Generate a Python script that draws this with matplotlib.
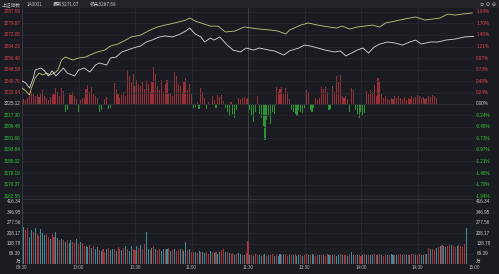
import matplotlib.pyplot as plt
from matplotlib.patches import Rectangle

# ---- data ----
base = 3225.12
price_ticks = [3287.69, 3279.87, 3272.05, 3264.22, 3256.40, 3248.58, 3240.76, 3232.94, 3225.12,
               3217.30, 3209.48, 3201.66, 3193.84, 3186.02, 3178.19, 3170.37, 3162.55]
pct_labels = ['1.94%', '1.70%', '1.46%', '1.21%', '0.97%', '0.73%', '0.48%', '0.24%', '0.00%',
              '-0.24%', '-0.48%', '-0.73%', '-0.97%', '-1.21%', '-1.46%', '-1.70%', '-1.94%']
vol_ticks = [416.34, 346.95, 277.56, 208.17, 138.78, 69.39]
time_pos = [0, 30, 60, 90, 120, 150, 180, 210, 240]
time_labels = ['09:30', '10:00', '10:30', '11:00', '11:30', '13:30', '14:00', '14:30', '15:00']

# leading index (yellow)
lead_min = [0, 2, 4, 5, 7, 9, 11, 13, 15, 18, 19, 21, 23, 27, 30, 34, 36, 40, 44, 47, 51, 55, 58, 63,
            68, 72, 76, 81, 87, 89, 92, 95, 100, 104, 108, 113, 118, 122, 126, 132, 136, 140, 142,
            148, 152, 157, 163, 167, 170, 174, 178, 182, 186, 190, 193, 198, 203, 209, 214, 218,
            222, 226, 230, 234, 239]
lead_px = [3236.0, 3234.0, 3231.2, 3236.0, 3242.8, 3246.2, 3244.8, 3246.2, 3244.8, 3246.9, 3248.2,
           3255.0, 3257.1, 3255.0, 3256.4, 3257.1, 3258.4, 3260.5, 3261.8, 3264.6, 3265.9, 3268.6,
           3270.7, 3272.0, 3275.4, 3277.5, 3278.8, 3280.2, 3282.2, 3283.6, 3281.5, 3280.2, 3278.1,
           3278.1, 3274.1, 3274.7, 3277.5, 3276.8, 3276.1, 3275.4, 3274.7, 3272.7, 3275.4, 3278.8,
           3280.2, 3278.8, 3277.5, 3276.8, 3278.1, 3276.1, 3277.5, 3278.1, 3278.8, 3277.5, 3280.2,
           3281.5, 3282.9, 3284.3, 3282.2, 3282.9, 3283.6, 3286.3, 3285.6, 3286.3, 3287.0]

# index (white)
idx_min = [0, 2, 4, 6, 7, 10, 12, 14, 16, 18, 20, 22, 24, 28, 30, 33, 36, 39, 41, 45, 47, 50, 53,
           56, 59, 63, 66, 69, 73, 76, 80, 84, 87, 89, 92, 95, 97, 100, 102, 105, 109, 112, 116,
           119, 123, 126, 131, 134, 139, 142, 147, 150, 153, 157, 161, 166, 169, 172, 175, 178,
           181, 184, 187, 190, 194, 198, 202, 206, 209, 212, 217, 221, 225, 230, 235, 240]
idx_px = [3240.8, 3239.4, 3236.0, 3242.8, 3248.2, 3249.6, 3247.6, 3244.2, 3247.6, 3244.2, 3246.9,
          3249.6, 3246.2, 3244.2, 3248.2, 3249.6, 3246.9, 3251.6, 3253.0, 3251.6, 3256.4, 3257.1,
          3260.5, 3261.8, 3263.2, 3264.6, 3267.3, 3268.6, 3270.7, 3271.4, 3270.7, 3272.7, 3274.8,
          3276.8, 3272.7, 3270.7, 3267.3, 3270.0, 3268.6, 3270.7, 3265.2, 3261.8, 3260.5, 3263.2,
          3261.8, 3263.2, 3261.8, 3261.2, 3258.4, 3261.2, 3263.2, 3265.2, 3264.6, 3263.2, 3261.8,
          3260.5, 3261.2, 3257.8, 3259.8, 3261.8, 3263.2, 3259.8, 3263.9, 3265.9, 3267.3, 3266.6,
          3265.2, 3267.3, 3268.6, 3265.9, 3267.3, 3267.3, 3268.6, 3269.3, 3270.7, 3271.07]

# buy/sell strength bars, one per minute (positive red, negative green)
strength = [
    3, 5, 4, 6, 8, 12, 10, 8, 9, 7, 10, 14, 8, 6, 4, 7, 9, 10, 16, 12,
    8, 16, 13, -8, -6, 11, 9, 12, 8, 5, -8, 4, 6, 6, 15, 19, 12, 17, 10, 8,
    6, -8, -6, 0, 5, 7, -5, -4, 0, 21, 15, 10, 6, 9, 12, 8, 34, 28, 22, 30,
    18, 24, 20, 18, 22, 15, 24, 20, 12, 22, 37, 30, 18, 14, 24, 12, 20, 24, 10, 11,
    8, 32, 28, 20, 18, 12, 22, 26, 14, 20, 10, -4, -3, 2, -5, 16, 12, 6, -5, 2,
    0, 8, 4, -4, 9, 7, 9, 3, -4, -8, -12, 2, -10, -14, -6, 6, 5, 6, 7, 5,
    6, -6, -12, -18, -8, 8, -10, -14, -22, -36, -16, -12, -20, -8, -10, 17, 12, 15, 17, 10,
    16, 12, 5, -6, -8, -10, -12, -6, -8, -9, -4, 14, 12, -6, -8, -4, 6, 4, 6, 17,
    15, 17, 12, -6, -5, 18, 12, 28, 22, 29, 8, 6, 8, 5, -8, 16, 14, -6, -10, -14,
    -8, -12, -9, 13, 10, 14, 12, 19, 8, 26, 22, 10, 6, 8, 5, 4, 6, 5, 8, 6,
    8, 6, 5, 7, 4, 6, 5, 8, 6, 7, 9, 8, 6, 7, 5, 6, 8, 7, 9, 8, 6]

# volume per minute and whether the minute closed up (r) or down (t)
volume = [
    416, 250, 230, 245, 180, 230, 215, 240, 200, 190, 235, 210, 195, 200, 180, 170, 205, 185, 215, 175,
    165, 170, 160, 150, 165, 140, 160, 150, 145, 170, 135, 150, 140, 125, 120, 115, 130, 110, 125, 100,
    115, 95, 90, 105, 85, 100, 110, 95, 100, 105, 90, 115, 100, 95, 110, 120, 105, 90, 125, 100,
    95, 120, 110, 130, 100, 135, 215, 100, 95, 110, 120, 105, 95, 100, 90, 105, 95, 100, 110, 90,
    95, 100, 90, 95, 105, 100, 90, 147, 95, 100, 85, 80, 85, 75, 90, 80, 85, 75, 80, 70,
    90, 80, 75, 85, 70, 80, 95, 100, 85, 80, 75, 70, 75, 65, 70, 75, 70, 65, 60, 75,
    153, 60, 65, 55, 70, 60, 65, 58, 62, 70, 55, 60, 66, 72, 58, 62, 55, 68, 60, 64,
    70, 58, 62, 66, 60, 72, 58, 64, 60, 55, 62, 68, 60, 66, 70, 62, 58, 64, 60, 66,
    62, 58, 70, 64, 60, 66, 62, 58, 64, 70, 60, 62, 66, 58, 64, 80, 62, 60, 66, 64,
    58, 62, 70, 64, 60, 66, 62, 68, 60, 64, 70, 62, 58, 66, 60, 64, 70, 62, 66, 60,
    64, 68, 62, 70, 66, 60, 64, 72, 68, 62, 66, 70, 64, 60, 68, 72, 110, 105, 100, 95,
    110, 115, 120, 130, 125, 118, 120, 130, 128, 120, 115, 125, 130, 120, 118, 135, 240]
vol_dir = ('ttrrttrtrrtttrrtrrttrtrtrttrrtrtrrttrtrttrtrrtrttrtrrtrtrttrrt'
           'rtrrttrtrtrrttrtrtrtrrtrttrtrrtrtrttrrtrtrttrrtrtrrtrttrtrrtr'
           'trrttrtrtrrtrttrtrrtrtrttrtrrtrttrrtrtrrtrtrttrtrrtrttrtrrtrtr'
           'ttrrtrtrrtrttrtrrtrtrtrrtrrttrtrtrrtrtrttrrtrrtrrrr')

# ---- figure ----
W, H = 499, 274
bg = '#1b1c21'
fig = plt.figure(figsize=(W / 100, H / 100), dpi=100, facecolor=bg)
num_font = ['Liberation Sans', 'DejaVu Sans']
cjk_font = ['Noto Sans CJK SC', 'DejaVu Sans']
fs = 3.3

def box(x0, y0, x1, y1):
    return [x0 / W, 1 - y1 / H, (x1 - x0) / W, (y1 - y0) / H]

# header band
fig.patches.append(Rectangle((0, 1 - 8 / H), 1, 8 / H, transform=fig.transFigure,
                             facecolor='#232429', edgecolor='none'))
hy = 1 - 4.2 / H
fig.text(2 / W, hy, '上证指数', family=cjk_font, fontsize=3.4, color='#b8b8b8', va='center')
fig.text(27 / W, hy, '1A0001', family=num_font, fontsize=fs, color='#b8b8b8', va='center')
fig.text(53 / W, hy, '最新3271.07', family=cjk_font, fontsize=3.4, color='#d0d0d0', va='center')
fig.text(90 / W, hy, '领先3287.69', family=cjk_font, fontsize=3.4, color='#d0d0d0', va='center')
fig.text(488 / W, hy, '⊃ ⊙ ⊖', family=['DejaVu Sans'], fontsize=3.6, color='#d0d0d0',
         va='center', ha='center')

# main price panel
ax = fig.add_axes(box(22, 8, 474, 199), facecolor=bg)
ylo = 3162.55 - 3 / 1.4704
yhi = 3287.69 + 4 / 1.4704
ax.set_xlim(0, 240)
ax.set_ylim(ylo, yhi)
for p in price_ticks:
    ax.axhline(p, color='#2a2b31', lw=0.5, zorder=0)
for t in time_pos[1:-1]:
    ax.axvline(t, color='#45464c' if t == 120 else '#2a2b31', lw=0.6, zorder=0)

axs = ax.twinx()
axs.set_ylim(-(199 - 104), 104 - 8)
mins = list(range(len(strength)))
axs.bar(mins, [max(v, 0) for v in strength], width=0.6, color='#a3343c', alpha=0.9)
axs.bar(mins, [min(v, 0) for v in strength], width=0.6, color='#2fa23a', alpha=0.9)
axs.set_yticks([])
axs.axhline(0, color='#3a3b41', lw=0.5)

ax.plot(lead_min, lead_px, color='#c8c67a', lw=0.6, zorder=5)
ax.plot(idx_min, idx_px, color='#dcdcdc', lw=0.6, zorder=5)
ax.set_zorder(axs.get_zorder() + 1)
ax.patch.set_visible(False)
axs.patch.set_visible(True)
axs.patch.set_facecolor(bg)

ax.set_xticks([])
ax.set_yticks([])
for p, lab in zip(price_ticks, pct_labels):
    if p > base + 1:
        c = '#e0434c'
    elif p < base - 1:
        c = '#33cc3a'
    else:
        c = '#d0d0d0'
    ax.text(-0.6, p, f'{p:.2f}', transform=ax.transData, ha='right', va='center',
            fontsize=fs, family=num_font, color=c, clip_on=False)
    ax.text(241.2, p, lab, ha='left', va='center', fontsize=fs, family=num_font,
            color=c, clip_on=False)
for a in (ax, axs):
    for s in a.spines.values():
        s.set_visible(False)
ax.axvline(0, color='#3a3b41', lw=0.6)
ax.axvline(240, color='#3a3b41', lw=0.6)

# volume panel
av = fig.add_axes(box(22, 199, 474, 264.4), facecolor=bg)
av.set_xlim(0, 240)
av.set_ylim(0, 416.34 + 3 / 0.1499)
for v in vol_ticks:
    av.axhline(v, color='#2a2b31', lw=0.5, zorder=0)
for t in time_pos[1:-1]:
    av.axvline(t, color='#45464c' if t == 120 else '#2a2b31', lw=0.6, zorder=0)
vm = list(range(len(volume)))
vc = ['#a5363d' if d == 'r' else '#3f8c96' for d in vol_dir[:len(volume)]]
av.bar(vm, volume, width=0.55, color=vc)
av.set_xticks([])
av.set_yticks([])
for s in av.spines.values():
    s.set_visible(False)
av.axhline(av.get_ylim()[1], color='#3a3b41', lw=0.6)
av.axvline(0, color='#3a3b41', lw=0.6)
av.axvline(240, color='#3a3b41', lw=0.6)
for v in vol_ticks:
    av.text(-0.6, v, f'{v:.2f}', ha='right', va='center', fontsize=fs, family=num_font,
            color='#c8c8c8', clip_on=False)
    av.text(241.2, v, f'{v:.2f}', ha='left', va='center', fontsize=fs, family=num_font,
            color='#c8c8c8', clip_on=False)
av.text(-0.6, 0, '万', ha='right', va='bottom', fontsize=3.4, family=cjk_font, color='#c8c8c8',
        clip_on=False)
av.text(241.2, 0, '万', ha='left', va='bottom', fontsize=3.4, family=cjk_font, color='#c8c8c8',
        clip_on=False)
for t, lab in zip(time_pos, time_labels):
    av.text(t, -22, lab, ha='center', va='center', fontsize=fs, family=num_font,
            color='#b0b0b0', clip_on=False)

fig.savefig('out.png', dpi=100, facecolor=bg)
